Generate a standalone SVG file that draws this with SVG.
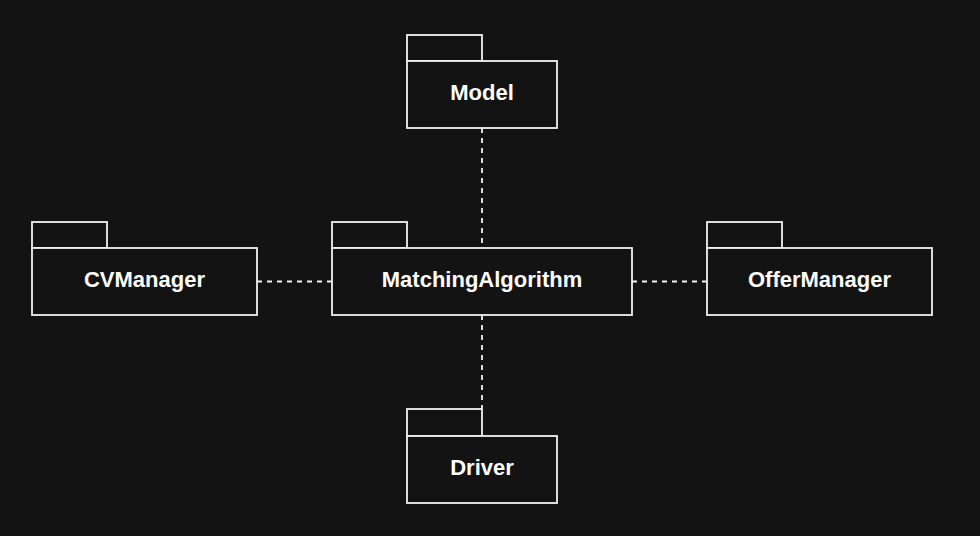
<svg xmlns="http://www.w3.org/2000/svg" width="980" height="536" viewBox="0 0 980 536">
<style>
.bg{fill:#131313}
.pk{fill:#131313;stroke:#f2f2f2;stroke-width:1.8}
.lb{fill:#ffffff;font-family:"Liberation Sans",Arial,sans-serif;font-weight:bold;font-size:22px;text-anchor:middle}
.cn{stroke:#f2f2f2;stroke-width:1.8;stroke-dasharray:5,5;fill:none}
</style>
<rect class="bg" x="0" y="0" width="980" height="536"/>
<g id="connectors">
<line class="cn" x1="482" y1="128" x2="482" y2="248"/>
<line class="cn" x1="257" y1="281.5" x2="332" y2="281.5"/>
<line class="cn" x1="632" y1="281.5" x2="707" y2="281.5"/>
<line class="cn" x1="482" y1="315" x2="482" y2="409"/>
</g>
<g id="Model">
<rect class="pk" x="407" y="35" width="75" height="26"/>
<rect class="pk" x="407" y="61" width="150" height="67"/>
<text class="lb" x="482" y="100">Model</text>
</g>
<g id="CVManager">
<rect class="pk" x="32" y="222" width="75" height="26"/>
<rect class="pk" x="32" y="248" width="225" height="67"/>
<text class="lb" x="144.5" y="287">CVManager</text>
</g>
<g id="MatchingAlgorithm">
<rect class="pk" x="332" y="222" width="75" height="26"/>
<rect class="pk" x="332" y="248" width="300" height="67"/>
<text class="lb" x="482" y="287">MatchingAlgorithm</text>
</g>
<g id="OfferManager">
<rect class="pk" x="707" y="222" width="75" height="26"/>
<rect class="pk" x="707" y="248" width="225" height="67"/>
<text class="lb" x="819.5" y="287">OfferManager</text>
</g>
<g id="Driver">
<rect class="pk" x="407" y="409" width="75" height="27"/>
<rect class="pk" x="407" y="436" width="150" height="67"/>
<text class="lb" x="482" y="475">Driver</text>
</g>
</svg>
